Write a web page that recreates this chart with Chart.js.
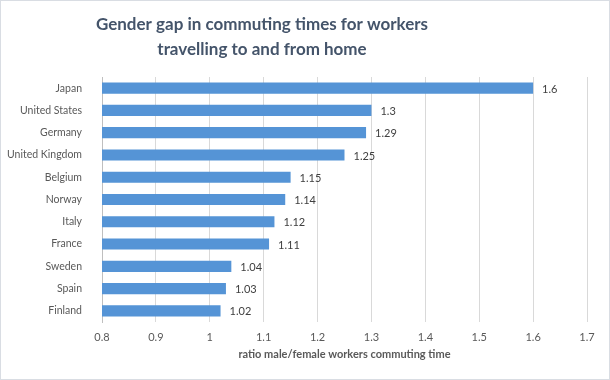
<!DOCTYPE html>
<html>
<head>
<meta charset="utf-8">
<script src="https://cdn.jsdelivr.net/npm/chart.js@4.4.1/dist/chart.umd.min.js"></script>
<style>
  html, body { margin: 0; padding: 0; background: #fff; }
  #wrap { width: 608px; height: 378px; border: 1px solid #d9dde3; position: relative; }
</style>
</head>
<body>
<div id="wrap"><canvas id="chart"></canvas></div>
<script>
// data
const countries = ['Japan', 'United States', 'Germany', 'United Kingdom', 'Belgium',
  'Norway', 'Italy', 'France', 'Sweden', 'Spain', 'Finland'];
const ratios = [1.6, 1.3, 1.29, 1.25, 1.15, 1.14, 1.12, 1.11, 1.04, 1.03, 1.02];
const titleLines = ['Gender gap in commuting times for workers', 'travelling to and from home'];
const xTitle = 'ratio male/female workers commuting time';

const FONT = 'Lato, "Open Sans", sans-serif';

/* title drawn by hand so it can sit off-centre like the original */
const titlePlugin = {
  id: 'offTitle',
  afterDraw(chart) {
    const { ctx } = chart;
    ctx.save();
    ctx.fillStyle = '#44546a';
    ctx.font = 'bold 17px ' + FONT;
    ctx.textAlign = 'center';
    ctx.textBaseline = 'middle';
    titleLines.forEach((t, i) => ctx.fillText(t, 261, 24 + i * 25));
    ctx.restore();
  }
};

/* value labels at the bar ends */
const valueLabels = {
  id: 'valueLabels',
  afterDatasetsDraw(chart) {
    const { ctx } = chart;
    const meta = chart.getDatasetMeta(0);
    ctx.save();
    ctx.fillStyle = '#404040';
    ctx.font = '11px ' + FONT;
    ctx.textAlign = 'left';
    ctx.textBaseline = 'middle';
    meta.data.forEach((bar, i) => ctx.fillText(String(ratios[i]), bar.x + 9, bar.y + 1));
    ctx.restore();
  }
};

new Chart(document.getElementById('chart'), {
  type: 'bar',
  data: {
    labels: countries,
    datasets: [{
      data: ratios,
      backgroundColor: '#5594d6',
      borderWidth: 0,
      barPercentage: 0.5,
      categoryPercentage: 1.0
    }]
  },
  options: {
    indexAxis: 'y',
    responsive: true,
    maintainAspectRatio: false,
    animation: false,
    layout: { padding: { top: 76, right: 22, bottom: 0, left: 0 } },
    plugins: { legend: { display: false }, tooltip: { enabled: false }, title: { display: false } },
    scales: {
      x: {
        min: 0.8, max: 1.7,
        ticks: { stepSize: 0.1, padding: 9, color: '#595959', font: { family: FONT, size: 11 },
          callback: v => Math.round(v * 10) / 10 },
        grid: { color: '#d9d9d9', tickLength: 0, drawTicks: false },
        border: { display: false },
        title: { display: true, text: xTitle, color: '#595959',
          font: { family: FONT, size: 11, weight: 'bold' }, padding: { top: 0, bottom: 18 } },
        afterFit(scale) { scale.height = 57; }
      },
      y: {
        ticks: { padding: 12, color: '#595959', font: { family: FONT, size: 10.5 } },
        grid: { display: false },
        border: { display: true, color: '#bfbfbf' },
        afterFit(scale) { scale.width = 101; }
      }
    }
  },
  plugins: [titlePlugin, valueLabels]
});
</script>
</body>
</html>
